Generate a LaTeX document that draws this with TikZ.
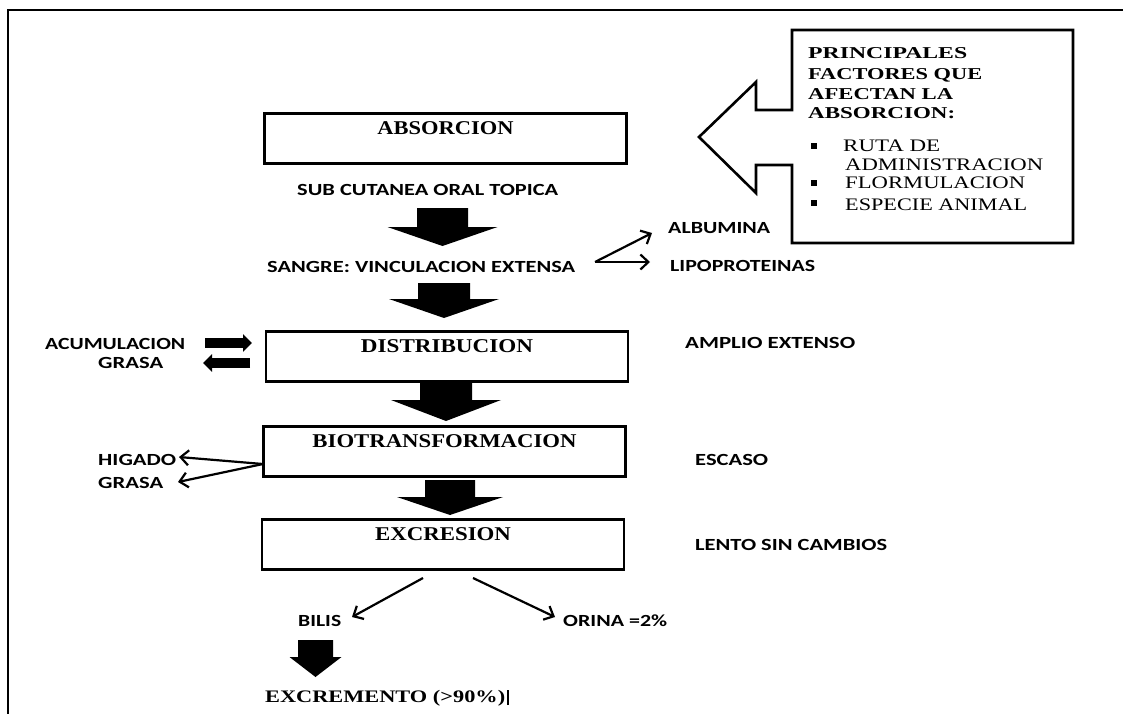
\documentclass[tikz,border=0pt]{standalone}
\usepackage{fontspec}
\usetikzlibrary{arrows.meta}
\newfontfamily\sfbf{Carlito}
\newfontfamily\rmtimes{Liberation Serif}
\newcommand\fw[2]{\resizebox{#1pt}{\height}{#2}}
\newcommand\dnarr[6]{\fill (#1-#5,#2) -- (#1+#5,#2) -- (#1+#5,#3) -- (#1+#6,#3) -- (#1,#4) -- (#1-#6,#3) -- (#1-#5,#3) -- cycle;}
\tikzset{
  stage/.style={draw, line width=2.6pt, anchor=north, inner sep=0pt, minimum width=362pt,
    text height=21pt, text depth=29pt, font=\rmtimes\bfseries\fontsize{19.5}{19.5}\selectfont},
  lbl/.style={inner sep=0pt, anchor=base west, font=\sfbf\bfseries\fontsize{17}{17}\selectfont},
  callhead/.style={inner sep=0pt, anchor=base west, font=\rmtimes\bfseries\fontsize{16.6}{16.6}\selectfont},
  callitem/.style={inner sep=0pt, anchor=base west, font=\rmtimes\fontsize{17.6}{17.6}\selectfont},
  bul/.style={fill, inner sep=0pt, minimum size=5.5pt},
  thin/.style={line width=2.2pt, -{Straight Barb[length=8pt,width=15pt]}},
  fat/.style={line width=10pt, -{Triangle[length=9pt,width=17pt]}},
  frame/.style={line width=2.2pt}
}
\begin{document}
\begin{tikzpicture}[x=1pt,y=-1pt]
\useasboundingbox (0,0) rectangle (1123,714);
\fill[white] (0,0) rectangle (1123,714);
\draw[frame] (1123,10) -- (8,10) -- (8,714);

% main stages
\node[stage] (abs) at (445.5,112) {\fw{136}{ABSORCION}};
\node[stage] (dist) at (447,330) {\fw{172}{DISTRIBUCION}};
\node[stage] (bio) at (444.5,425) {\fw{264}{BIOTRANSFORMACION}};
\node[stage] (exc) at (443,518) {\fw{136}{EXCRESION}};

% labels
\node[lbl] (via) at (297,195) {\fw{261}{SUB CUTANEA ORAL TOPICA}};
\node[lbl] (sangre) at (267,272) {\fw{308}{SANGRE: VINCULACION EXTENSA}};
\node[lbl] (alb) at (668,233) {\fw{102}{ALBUMINA}};
\node[lbl] (lipo) at (670,271) {\fw{145}{LIPOPROTEINAS}};
\node[lbl] (acum) at (45,349) {\fw{140}{ACUMULACION}};
\node[lbl] (grasa1) at (98,368) {\fw{65}{GRASA}};
\node[lbl] (hig) at (98,465) {\fw{78}{HIGADO}};
\node[lbl] (grasa2) at (98,488) {\fw{65}{GRASA}};
\node[lbl] (amplio) at (685,348) {\fw{170}{AMPLIO EXTENSO}};
\node[lbl] (escaso) at (695,465) {\fw{73}{ESCASO}};
\node[lbl] (lento) at (695,550) {\fw{192}{LENTO SIN CAMBIOS}};
\node[lbl] (bilis) at (298,626) {\fw{43}{BILIS}};
\node[lbl] (orina) at (563,626) {\fw{104}{ORINA =2\%}};
\node[inner sep=0pt, anchor=base west, font=\rmtimes\bfseries\fontsize{17.6}{17.6}\selectfont] (excr) at (265,702) {\fw{240}{EXCREMENTO (>90\%)}\hspace{2pt}\rule[-3pt]{2pt}{15pt}};

% block arrows down
\dnarr{442.5}{208}{227}{246}{25.5}{55}
\dnarr{444}{283}{299}{318}{26}{55}
\dnarr{446}{383}{400}{421}{26}{55}
\dnarr{450}{480}{497}{515}{25}{53}
\dnarr{315.5}{640}{657}{677}{17.5}{26}

% thin arrows
\coordinate (sg) at (595,262);
\draw[thin] (sg) -- (652,233);
\draw[thin] (sg) -- (650,262);
\coordinate (bl) at (263,464);
\draw[thin] (bl) -- (179,457);
\draw[thin] (bl) -- (178,482);
\draw[thin] (423,578) -- (352,617);
\draw[thin] (473,578) -- (555,617);

% fat side arrows
\draw[fat] (205,343) -- (252,343);
\draw[fat] (250,363) -- (203,363);

% callout
\draw[line width=2.6pt, line join=miter] (792,30) -- (1073,30) -- (1073,243) -- (792,243) -- (792,165) -- (756,165) -- (756,193) -- (699,137) -- (756,82) -- (756,110) -- (792,110) -- cycle;
\node[callhead] (h1) at (808,59) {\fw{159}{PRINCIPALES}};
\node[callhead] (h2) at (808,80) {\fw{174}{FACTORES QUE}};
\node[callhead] (h3) at (808,100) {\fw{145}{AFECTAN LA}};
\node[callhead] (h4) at (808,119) {\fw{147}{ABSORCION:}};
\node[bul] (b1) at (814,146) {};
\node[callitem] (i1) at (843,152) {\fw{97}{RUTA DE}};
\node[callitem] (i1b) at (845,171) {\fw{198}{ADMINISTRACION}};
\node[bul] (b2) at (814,183) {};
\node[callitem] (i2) at (845,189) {\fw{180}{FLORMULACION}};
\node[bul] (b3) at (814,203) {};
\node[callitem] (i3) at (845,210) {\fw{182}{ESPECIE ANIMAL}};
\end{tikzpicture}
\end{document}
